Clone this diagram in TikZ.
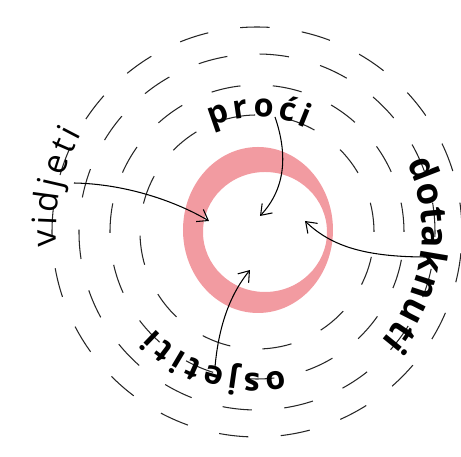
\documentclass[tikz,border=0pt]{standalone}
\usepackage{fontspec}
\newfontfamily\wordfont{Open Sans}
\usepackage{tikz}
\usetikzlibrary{arrows.meta, decorations.text}

\definecolor{ringpink}{RGB}{242,155,161}

\begin{document}
\begin{tikzpicture}[
  x=0.025cm, y=0.025cm,
  ring/.style={line width=0.75pt, black!85, dash pattern=on 21pt off 23pt},
  arr/.style={line width=0.75pt, -{Straight Barb[length=7pt, width=10pt]}},
  word/.style={decorate, decoration={text along path, text align=center, text={#1}}},
]
  \useasboundingbox (-257,-225) rectangle (204,232);

  % pink ring
  \fill[ringpink, even odd rule] (1,2) ellipse [x radius=75, y radius=83]
                                 (8,0) ellipse [x radius=62, y radius=60];

  % dashed rings
  \foreach \r in {117,147,178,205}
    \draw[ring] (0,0) circle [radius=\r];

  % words on the rings
  \path[word={|\wordfont\bfseries\fontsize{23}{26}\selectfont\kern2.8pt|proći}]
    (140:115) arc [start angle=140, end angle=40, radius=115];
  \path[word={|\wordfont\fontsize{24}{26}\selectfont\kern2.8pt|vidjeti}]
    (210:201) arc [start angle=210, end angle=126, radius=201];
  \path[word={|\wordfont\bfseries\fontsize{26}{28}\selectfont\kern0.8pt|dotaknuti}]
    (40:165) arc [start angle=40, end angle=-56, radius=165];
  \path[word={|\wordfont\bfseries\fontsize{23}{26}\selectfont\kern3pt|osjetiti}]
    (298:141) arc [start angle=298, end angle=208, radius=141];

  % arrows into the ring
  \coordinate (proci) at (18,115);
  \coordinate (vidj) at (-183,49);
  \coordinate (dotak) at (170,-25);
  \coordinate (osjet) at (-42,-135);
  \coordinate (in1) at (3,16);
  \coordinate (in2) at (-48,11);
  \coordinate (in3) at (48,11);
  \coordinate (in4) at (-7,-38);

  \draw[arr] (proci) .. controls (30,80) and (30,45) .. (in1);
  \draw[arr] (vidj) .. controls (-130,48) and (-80,30) .. (in2);
  \draw[arr] (dotak) .. controls (110,-25) and (75,-15) .. (in3);
  \draw[arr] (osjet) .. controls (-38,-90) and (-25,-60) .. (in4);
\end{tikzpicture}
\end{document}
